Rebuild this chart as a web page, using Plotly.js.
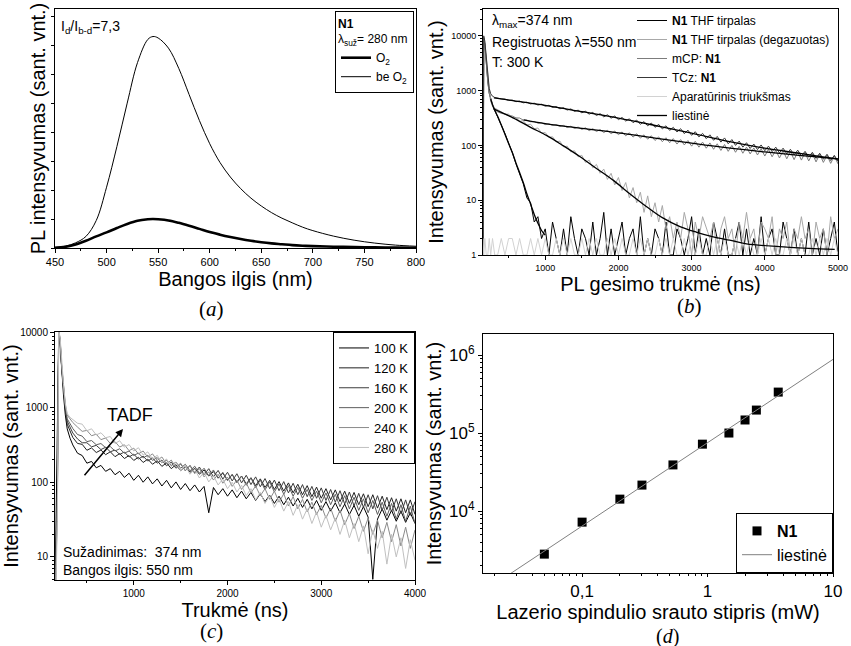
<!DOCTYPE html>
<html><head><meta charset="utf-8">
<script src="https://cdn.plot.ly/plotly-3.0.1.min.js"></script>
<style>html,body{margin:0;padding:0;background:#fff}#chart{width:851px;height:646px}</style>
</head><body><div id="chart"></div>
<script>
// ===== Panel (a): PL spectra =====
const wavelength = [450,460,470,480,490,500,510,520,530,540,545,550,560,570,580,590,600,610,620,630,640,650,660,670,680,690,700,720,740,760,780,800];
const pl_O2   = [0.01,0.04,0.12,0.25,0.40,0.54,0.69,0.83,0.94,0.99,1.0,0.99,0.95,0.87,0.77,0.66,0.55,0.46,0.38,0.31,0.25,0.20,0.16,0.13,0.10,0.08,0.065,0.045,0.03,0.02,0.013,0.01];
const pl_beO2 = [0.02,0.06,0.18,0.40,0.95,2.1,3.5,5.0,6.4,7.2,7.3,7.25,6.9,6.2,5.3,4.4,3.6,2.95,2.45,2.05,1.72,1.45,1.22,1.03,0.87,0.72,0.6,0.41,0.27,0.17,0.10,0.06];

// ===== Panel (b): PL decays at 300 K =====
const tB = [152,160,175,195,215,235,255,280,310,350,400,
 450,500,550,600,650,700,750,800,850,900,950,1000,1050,1100,1150,1200,1250,1300,1350,1400,1450,1500,1550,1600,1650,1700,1750,1800,1850,1900,1950,2000,
 2050,2100,2150,2200,2250,2300,2350,2400,2450,2500,2550,2600,2650,2700,2750,2800,2850,2900,2950,3000,3050,3100,3150,3200,3250,3300,3350,3400,3450,3500,
 3550,3600,3650,3700,3750,3800,3850,3900,3950,4000,4050,4100,4150,4200,4250,4300,4350,4400,4450,4500,4550,4600,4650,4700,4750,4800,4850,4900,4950,5000];
const iTHF = [1,9000,7000,3000,1500,900,700,560,440,335,235,
 165,110,75,46,30,20,11,9,4,5,2,3,
 1,4,2,1,3,1,5,2,1,3, 2,1,4,1,2,6,1,3,1,2, 4,1,2,3,1,5,1,2,1,3, 2,1,4,1,1,3,2,1,2,5,
 1,3,1,2,1,4,2,1,3,1, 1,2,4,1,3,1,2,1,5,1, 2,3,1,1,4,2,1,3,1,2, 1,4,1,2,1,3,1,2,4,1];
const iTHFdeg = [1,9500,7500,3500,1700,1000,720,560,480,440,410,
 370,372,320,322,276,282,236,244,202,208,168,172,140,144,116,120,94,97,76,80,62,66,49,54,39,45,31,37,24,31,19,26,15,21,11,17,9,14,6,12,5,9,4,8,
 3,5,2,4,2,6,3,1,4,2, 5,3,2,4,1,3,5,2,3,1, 4,2,6,2,3,1,4,3,2,5, 1,3,2,4,1,3,2,5,2,3, 1,4,2,3,1,5,2,3];
const iMCP = [1,9000,7000,3000,1500,900,650,520,450,410,385,
 375,350,345,318,316,290,290,270,274,254, 259,240,248,232,240,222,232,212,224,204, 216,196,210,186,202,180,194,172,188,164,
 182,158,176,150,170,142,163,136,156,130, 150,123,143,117,138,112,133,106,128,102, 123,97,119,93,115,89,111,85,107,81,
 104,78,100,75,96,72,93,70,90,67, 87,64,85,62,82,59,80,57,78,55, 76,54,74,52,71,50,69,49,66,47, 64,46];
const iTCz = [1,10000,8000,3800,1800,1100,880,790,750,725,705,
 700,660,672,628,645,600,615,572,590,546, 565,520,540,494,512,466,488,442,464,418, 440,394,420,372,400,352,380,332,362,314,
 344,296,324,278,306,260,290,243,272,228, 256,214,242,200,228,188,214,176,202,164, 190,153,178,143,166,133,156,124,146,115,
 137,107,128,100,120,93,112,88,106,84, 102,80,97,77,93,73,89,70,85,67, 82,64,78,61,75,58,72,56,69,53, 66,51];
const iNoise = [2,1,2,1,1,2,1,2,1,1, 2,1,2,2,1,2,1,1,2,1, 2,1,2,1,1,2,1,2,1,2, 1,1,2,1,2,1,2,1,1,2, 1,2,1,2,1,1,2,1,2,1,
 2,1,1,2,1,2,1,2,1,1, 2,1,2,1,2,1,1,2,1,2, 1,2,1,1,2,1,2,1,2,1, 1,2,1,2,1,2,1,1,2,1, 2,1,2,1,1,2,1,2,1,2, 1,2,1];
// fitted curves (liestinė)
const fitTHF_t = [255,300,350,400,450,500,550,600,650,700,750,800,850,900,950,1000];
const fitTHF   = [700,470,340,235,160,108,74,48,32,21,13,8.5,5.5,3.8,2.8,2.3];
const fitDeg_t = [295,400,568,800,1023,1250,1477,1700,1932,2159,2386,2600,2841,3070,3295,3520,3750,4205,4600,4955];
const fitDeg   = [464,400,316,214,151,98,62,38,23,13,7.6,4.8,3.3,2.6,2.15,1.86,1.6,1.42,1.32,1.27];
const fitMCP_t = [705,1000,1500,2000,2500,3000,3500,4000,4500,5000];
const fitMCP   = [293,250,205,170,136,110,90,76,65,57];
const fitTCz_t = [300,600,1000,1500,2000,2500,3000,3500,4000,4500,5000];
const fitTCz   = [740,645,538,412,315,231,167,118,89,71,56];

// ===== Panel (c): temperature dependence =====
const tC = [160,172,185,200,215,230,250,270,290,320,350,400,
 450,500,550,600,650,700,750,800,850,900,950,1000,1050,1100,1150,1200,1250,1300,1350,1400,1450,1500,1550,1600,1650,1700,1750,1800,1850,1900,1950,2000,
 2050,2100,2150,2200,2250,2300,2350,2400,2450,2500,2550,2600,2650,2700,2750,2800,2850,2900,2950,3000,3050,3100,3150,3200,3250,3300,3350,3400,3450,3500,
 3550,3600,3650,3700,3750,3800,3850,3900,3950,4000];
const c100K = [3,30,140,11000,7000,3200,1500,800,520,390,316,245,
 228,180,190,156,168,140,152,126,140,116, 132,106,124,100,118,95,111,89,106,84, 101,80,96,77,92,74,88,39,85,68, 82,65,79,62,76,60,73,57,70,55,
 67,52,65,50,63,48,61,46,59,44, 57,42,55,41,53,39,51,37,49,35, 47,34,5,32,44,31,42,30,41,29, 39,28];
const c120K = [2,15,90,11000,7500,3500,1700,950,600,480,398,331,
 322,268,288,250,270,234,256,220,242,208, 228,196,216,184,204,174,194,163,182,152, 172,143,162,136,154,128,146,121,139,114, 132,107,126,101,121,95,115,90,111,85,
 106,80,102,76,98,72,94,68,90,64, 86,61,82,58,79,55,76,52,73,50, 70,47,68,45,65,43,62,41,60,39, 58,37];
const c160K = [2,10,60,11000,7800,3700,1800,1000,660,540,457,380,
 338,338,298,312,274,294,256,270,236,254, 218,238,204,224,192,212,180,198,166,186, 154,176,143,168,134,160,126,152,118,144, 110,136,104,130,98,124,93,118,87,112,
 82,107,77,102,72,97,68,93,64,88, 61,84,57,80,54,77,51,74,48,71, 46,68,44,66,42,63,40,60,38,58, 36,55];
const c200K = [2,8,50,11000,8000,3800,1900,1050,708,600,525,436,
 415,350,362,318,330,290,300,262,281,245, 262,228,246,212,230,196,214,182,198,168, 186,154,174,142,164,132,154,122,146,113, 136,105,128,98,121,91,114,85,107,79,
 101,74,95,69,90,65,85,61,80,57, 76,53,72,50,69,47,66,44,63,42, 60,39,57,37,54,35,52,32,50,30, 48,28];
const c240K = [2,6,40,11000,8200,3900,2000,1100,794,700,631,549,
 480,495,420,440,372,392,330,350,296,318, 265,286,240,262,216,240,196,218,176,198, 158,180,142,166,130,152,118,138,107,128, 97,117,88,107,80,98,72,89,66,82,
 59,76,54,70,48,64,44,59,40,54, 37,49,33,45,30,42,27,38,24,35, 22,33,20,31,18,29,16,27,14,25, 13,23];
const c280K = [2,5,30,11000,8500,4000,2100,1150,832,740,692,617,
 600,490,520,430,460,395,410,330,360,295, 320,262,290,232,255,205,230,183,205,162, 184,143,166,128,150,114,136,101,122,92, 110,82,100,74,91,66,82,58,73,52,
 66,46,60,41,55,36,50,32,44,28, 40,25,36,23,33,20,31,18,28,16, 26,11,23,13,22,8,20,10,18,7, 17,9];
const tempNames = ['100 K','120 K','160 K','200 K','240 K','280 K'];

// ===== Panel (d): intensity vs laser power =====
const laserPower = [0.05,0.1,0.2,0.3,0.53,0.91,1.48,1.99,2.45,3.66];
const intensityD = [2800,7200,14200,21500,39000,72000,100000,147000,197000,335000];
const fitD_x = [0.0263,10];
const fitD_y = [1540,880000];

// ---------- layout helpers ----------
const W = 851, H = 646;
const PX = x => x / W, PY = y => 1 - y / H;
const FONT = 'Liberation Sans, Arial, sans-serif';
const SERIF = 'Liberation Serif, Times New Roman, serif';
function logMinor(lo, hi) { const v = []; for (let e = lo; e < hi; e++) for (let m = 2; m <= 9; m++) v.push(m * Math.pow(10, e)); return v; }
function ax(extra) {
  return Object.assign({
    showline: true, mirror: true, linecolor: '#000', linewidth: 1,
    ticks: 'outside', ticklen: 4, tickwidth: 1, tickcolor: '#000',
    showgrid: false, zeroline: false,
    tickfont: {family: FONT, size: 11, color: '#000'}
  }, extra);
}
function ttl(text, standoff) { return {text: text, font: {family: FONT, size: 20, color: '#000'}, standoff: standoff}; }

const traces = [];
// (a)
traces.push({x: wavelength, y: pl_O2, mode: 'lines', line: {color: '#000', width: 2.6, shape: 'spline'}, name: 'O<sub>2</sub>', xaxis: 'x', yaxis: 'y', legend: 'legend'});
traces.push({x: wavelength, y: pl_beO2, mode: 'lines', line: {color: '#000', width: 1, shape: 'spline'}, name: 'be O<sub>2</sub>', xaxis: 'x', yaxis: 'y', legend: 'legend'});
// (b)
const bSeries = [
  [iTHF, '<b>N1</b> THF tirpalas', '#000000'],
  [iTHFdeg, '<b>N1</b> THF tirpalas (degazuotas)', '#a8a8a8'],
  [iMCP, 'mCP: <b>N1</b>', '#7c7c7c'],
  [iTCz, 'TCz: <b>N1</b>', '#383838'],
  [iNoise, 'Aparatūrinis triukšmas', '#d2d2d2']
];
bSeries.forEach(s => traces.push({x: tB, y: s[0], mode: 'lines', line: {color: s[2], width: 1}, name: s[1], xaxis: 'x2', yaxis: 'y2', legend: 'legend2'}));
[[fitTHF_t, fitTHF], [fitDeg_t, fitDeg], [fitMCP_t, fitMCP], [fitTCz_t, fitTCz]].forEach((f, i) => traces.push({
  x: f[0], y: f[1], mode: 'lines', line: {color: '#000', width: 1.3, shape: 'spline'}, name: 'liestinė',
  legendgroup: 'fitb', showlegend: i === 0, xaxis: 'x2', yaxis: 'y2', legend: 'legend2'}));
// (c)
const cSeries = [c100K, c120K, c160K, c200K, c240K, c280K];
const cColors = ['#000000', '#202020', '#3c3c3c', '#5e5e5e', '#8a8a8a', '#c0c0c0'];
cSeries.forEach((s, i) => traces.push({x: tC, y: s, mode: 'lines', line: {color: cColors[i], width: 1}, name: tempNames[i], xaxis: 'x3', yaxis: 'y3', legend: 'legend3'}));
// (d)
traces.push({x: laserPower, y: intensityD, mode: 'markers', marker: {symbol: 'square', size: 9, color: '#000'}, name: '<b>N1</b>', xaxis: 'x4', yaxis: 'y4', legend: 'legend4'});
traces.push({x: fitD_x, y: fitD_y, mode: 'lines', line: {color: '#808080', width: 1}, name: 'liestinė', xaxis: 'x4', yaxis: 'y4', legend: 'legend4'});

const legendBase = {bgcolor: 'rgba(255,255,255,0)', bordercolor: '#000', borderwidth: 0, itemwidth: 30, tracegroupgap: 0, orientation: 'v'};

const layout = {
  width: W, height: H, margin: {l: 0, r: 0, t: 0, b: 0},
  paper_bgcolor: '#fff', plot_bgcolor: '#fff',
  font: {family: FONT, color: '#000'},
  showlegend: true,
  xaxis: ax({domain: [PX(55), PX(416)], anchor: 'y', range: [450, 800], tick0: 450, dtick: 50,
    minor: {ticks: 'outside', ticklen: 2, dtick: 25, tickcolor: '#000'}, title: ttl('Bangos ilgis (nm)', 3)}),
  yaxis: ax({domain: [PY(248), PY(9)], anchor: 'x', range: [0, 8.25], dtick: 1, showticklabels: false, ticklen: 3,
    title: ttl('PL intensyvumas (sant. vnt.)', 0)}),
  xaxis2: ax({domain: [PX(483), PX(838)], anchor: 'y2', range: [150, 5000], tick0: 0, dtick: 1000, tickfont: {family: FONT, size: 9},
    minor: {ticks: 'outside', ticklen: 2, dtick: 500, tick0: 0, tickcolor: '#000'}, title: ttl('PL gesimo trukmė (ns)', 0)}),
  yaxis2: ax({domain: [PY(255), PY(9)], anchor: 'x2', type: 'log', range: [0, 4.49], tickmode: 'array',
    tickvals: [1, 10, 100, 1000, 10000], ticktext: ['1', '10', '100', '1000', '10000'], tickfont: {family: FONT, size: 9},
    minor: {ticks: 'outside', ticklen: 2, tickmode: 'array', tickvals: logMinor(0, 5), tickcolor: '#000'}, title: ttl('Intensyvumas (sant. vnt.)', 2)}),
  xaxis3: ax({domain: [PX(55), PX(415)], anchor: 'y3', range: [160, 4000], tick0: 0, dtick: 1000, tickfont: {family: FONT, size: 10},
    minor: {ticks: 'outside', ticklen: 2, dtick: 500, tick0: 0, tickcolor: '#000'}, title: ttl('Trukmė (ns)', 0)}),
  yaxis3: ax({domain: [PY(580), PY(332)], anchor: 'x3', type: 'log', range: [0.69, 4.013], tickmode: 'array',
    tickvals: [10, 100, 1000, 10000], ticktext: ['10', '100', '1000', '10000'], tickfont: {family: FONT, size: 10},
    minor: {ticks: 'outside', ticklen: 2, tickmode: 'array', tickvals: logMinor(0, 4), tickcolor: '#000'}, title: ttl('Intensyvumas (sant. vnt.)', 2)}),
  xaxis4: ax({domain: [PX(483), PX(833)], anchor: 'y4', type: 'log', range: [-1.79, 1.0], tickmode: 'array',
    tickvals: [0.1, 1, 10], ticktext: ['0,1', '1', '10'], tickfont: {family: FONT, size: 17}, ticklen: 3,
    minor: {ticks: 'outside', ticklen: 2, tickmode: 'array', tickvals: logMinor(-2, 1), tickcolor: '#000'}, title: ttl('Lazerio spindulio srauto stipris (mW)', 0)}),
  yaxis4: ax({domain: [PY(573), PY(334)], anchor: 'x4', type: 'log', range: [3.205, 6.27], tickmode: 'array',
    tickvals: [1e4, 1e5, 1e6], ticktext: ['10<sup>4</sup>', '10<sup>5</sup>', '10<sup>6</sup>'], tickfont: {family: FONT, size: 17},
    minor: {ticks: 'outside', ticklen: 2, tickmode: 'array', tickvals: logMinor(3, 6), tickcolor: '#000'}, title: ttl('Intensyvumas (sant. vnt.)', 2)}),
  legend: Object.assign({}, legendBase, {x: PX(414), xanchor: 'right', y: PY(11), yanchor: 'top', borderwidth: 1, bgcolor: '#fff',
    font: {family: FONT, size: 12}, title: {text: '<b>N1</b><br>λ<sub>suž</sub>= 280 nm', font: {family: FONT, size: 12}}}),
  legend2: Object.assign({}, legendBase, {x: PX(632), xanchor: 'left', y: PY(6), yanchor: 'top', font: {family: FONT, size: 12}}),
  legend3: Object.assign({}, legendBase, {x: PX(415), xanchor: 'right', y: PY(332), yanchor: 'top', borderwidth: 1, bgcolor: '#fff', font: {family: FONT, size: 13}}),
  legend4: Object.assign({}, legendBase, {x: PX(833), xanchor: 'right', y: PY(573), yanchor: 'bottom', borderwidth: 1, bgcolor: '#fff', font: {family: FONT, size: 16}}),
  annotations: [
    {xref: 'paper', yref: 'paper', x: PX(59), y: PY(27), xanchor: 'left', yanchor: 'middle', showarrow: false, text: 'I<sub>d</sub>/I<sub>b-d</sub>=7,3', font: {family: FONT, size: 14}},
    {xref: 'paper', yref: 'paper', x: PX(490), y: PY(21), xanchor: 'left', yanchor: 'middle', showarrow: false, text: 'λ<sub>max</sub>=374 nm', font: {family: FONT, size: 14}},
    {xref: 'paper', yref: 'paper', x: PX(490), y: PY(42), xanchor: 'left', yanchor: 'middle', showarrow: false, text: 'Registruotas λ=550 nm', font: {family: FONT, size: 14}},
    {xref: 'paper', yref: 'paper', x: PX(490), y: PY(62), xanchor: 'left', yanchor: 'middle', showarrow: false, text: 'T: 300 K', font: {family: FONT, size: 14}},
    {xref: 'paper', yref: 'paper', x: PX(130), y: PY(415), xanchor: 'center', yanchor: 'middle', showarrow: false, text: 'TADF', font: {family: FONT, size: 18}},
    {xref: 'paper', yref: 'paper', x: PX(123), y: PY(429), ax: -40, ay: 48, showarrow: true, arrowhead: 2, arrowsize: 1, arrowwidth: 1.5, arrowcolor: '#000', text: ' ', font: {size: 1}},
    {xref: 'paper', yref: 'paper', x: PX(61), y: PY(552), xanchor: 'left', yanchor: 'middle', showarrow: false, text: 'Sužadinimas:\u00a0 374 nm', font: {family: FONT, size: 14}},
    {xref: 'paper', yref: 'paper', x: PX(61), y: PY(570), xanchor: 'left', yanchor: 'middle', showarrow: false, text: 'Bangos ilgis: 550 nm', font: {family: FONT, size: 14}},
    {xref: 'paper', yref: 'paper', x: PX(211), y: PY(309), xanchor: 'center', yanchor: 'middle', showarrow: false, text: '(<i>a</i>)', font: {family: SERIF, size: 21}},
    {xref: 'paper', yref: 'paper', x: PX(689), y: PY(306), xanchor: 'center', yanchor: 'middle', showarrow: false, text: '(<i>b</i>)', font: {family: SERIF, size: 21}},
    {xref: 'paper', yref: 'paper', x: PX(211), y: PY(631), xanchor: 'center', yanchor: 'middle', showarrow: false, text: '(<i>c</i>)', font: {family: SERIF, size: 21}},
    {xref: 'paper', yref: 'paper', x: PX(667), y: PY(636), xanchor: 'center', yanchor: 'middle', showarrow: false, text: '(<i>d</i>)', font: {family: SERIF, size: 20}}
  ]
};

Plotly.newPlot('chart', traces, layout, {displayModeBar: false, staticPlot: true});
</script>
</body></html>
